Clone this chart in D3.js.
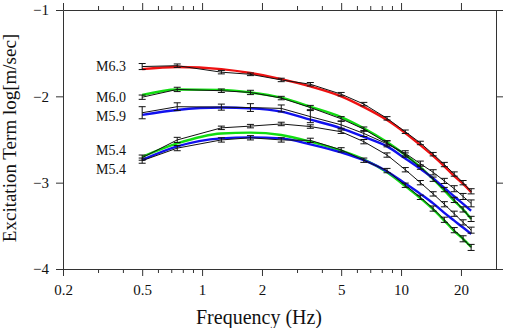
<!DOCTYPE html>
<html>
<head>
<meta charset="utf-8">
<script src="https://cdn.jsdelivr.net/npm/d3@7"></script>
<style>
  body { margin: 0; background: #fff; }
  svg { display: block; }
  svg text { font-family: "Liberation Serif", "Times New Roman", serif !important; }
</style>
</head>
<body>
<svg id="chart" width="505" height="328"></svg>
<script>
// frequencies (Hz) of the spectral points
const freqs = [0.5, 0.75, 1.25, 1.75, 2.5, 3.5, 5, 6.5, 8.5, 10.5, 12.5, 14.5, 16.5, 18.5, 20.5, 22.5];

// observed excitation terms (black lines with error bars)
const obsM63 = [-1.655, -1.645, -1.72, -1.745, -1.81, -1.86, -1.975, -2.09, -2.255, -2.41, -2.54, -2.67, -2.79, -2.9, -3.0, -3.1];
const obsM60 = [-2.01, -1.92, -1.935, -1.955, -2.02, -2.13, -2.26, -2.38, -2.54, -2.68, -2.82, -2.96, -3.08, -3.2, -3.31, -3.42];
const obsM59 = [-2.19, -2.12, -2.125, -2.13, -2.14, -2.235, -2.33, -2.43, -2.55, -2.66, -2.78, -2.88, -2.98, -3.07, -3.16, -3.24];
const obsM54a = [-2.71, -2.505, -2.365, -2.345, -2.32, -2.35, -2.41, -2.525, -2.68, -2.85, -3.0, -3.13, -3.25, -3.36, -3.46, -3.55];
const obsM54b = [-2.745, -2.6, -2.505, -2.48, -2.505, -2.51, -2.62, -2.74, -2.86, -3.03, -3.17, -3.3, -3.43, -3.55, -3.65, -3.75];

// error bar half widths
const errM63 = [0.035, 0.02, 0.02, 0.015, 0.02, 0.02, 0.02, 0.02, 0.02, 0.02, 0.02, 0.02, 0.025, 0.025, 0.025, 0.03];
const errM60 = [0.025, 0.025, 0.02, 0.025, 0.02, 0.025, 0.025, 0.025, 0.025, 0.025, 0.025, 0.025, 0.025, 0.03, 0.03, 0.03];
const errM59 = [0.07, 0.045, 0.035, 0.045, 0.04, 0.07, 0.04, 0.035, 0.035, 0.03, 0.03, 0.03, 0.03, 0.035, 0.035, 0.04];
const errM54a = [0.03, 0.03, 0.02, 0.02, 0.02, 0.02, 0.02, 0.025, 0.025, 0.025, 0.025, 0.025, 0.03, 0.03, 0.03, 0.035];
const errM54b = [0.03, 0.03, 0.025, 0.025, 0.025, 0.025, 0.025, 0.025, 0.025, 0.025, 0.025, 0.03, 0.03, 0.03, 0.035, 0.035];

// source model curves (coloured)
const modM63 = [-1.685, -1.66, -1.685, -1.73, -1.8, -1.885, -2.0, -2.125, -2.275, -2.425, -2.565, -2.69, -2.81, -2.925, -3.015, -3.11];
const modM60 = [-1.985, -1.92, -1.925, -1.955, -2.015, -2.12, -2.24, -2.37, -2.53, -2.68, -2.82, -2.96, -3.09, -3.21, -3.31, -3.42];
const modM59 = [-2.215, -2.158, -2.13, -2.139, -2.177, -2.27, -2.37, -2.47, -2.58, -2.72, -2.84, -2.95, -3.06, -3.16, -3.245, -3.325];
const modM54a = [-2.7, -2.545, -2.43, -2.42, -2.448, -2.525, -2.63, -2.73, -2.88, -3.04, -3.18, -3.31, -3.44, -3.56, -3.65, -3.745];
const modM54b = [-2.737, -2.58, -2.487, -2.475, -2.487, -2.556, -2.65, -2.74, -2.87, -3.01, -3.13, -3.24, -3.35, -3.44, -3.52, -3.595];

// event labels
const eventLabels = ["M6.3", "M6.0", "M5.9", "M5.4", "M5.4"];
const labelValues = [-1.71, -2.06, -2.29, -2.685, -2.9];

// axis ticks
const xMajorTicks = [0.2, 0.5, 1, 2, 5, 10, 20];
const xMinorTicks = [0.3, 0.4, 0.6, 0.7, 0.8, 0.9, 3, 4, 6, 7, 8, 9];
const yTicks = [-4, -3, -2, -1];

const svg = d3.select("#chart");
const plotLeft = 63, plotRight = 496, plotTop = 10, plotBottom = 269;

const x = d3.scaleLog().domain([0.2, 30]).range([plotLeft, plotRight]);
const y = d3.scaleLinear().domain([-4, -1]).range([plotBottom, plotTop]);

const axisColor = "#333";
const serif = "'Liberation Serif', 'Times New Roman', serif";

// Draw the frame axes
function styleAxis(g) {
  g.attr("font-family", serif);
  g.selectAll("path, line").attr("stroke", axisColor).attr("stroke-width", 1);
  g.selectAll("text").attr("fill", "#111").attr("font-size", "15px");
}

svg.append("g")
  .attr("transform", `translate(0, ${ plotBottom })`)
  .call(d3.axisBottom(x).tickValues(xMajorTicks).tickFormat(d => String(d)).tickSize(7).tickSizeOuter(0).tickPadding(8))
  .call(styleAxis);
svg.append("g")
  .attr("transform", `translate(0, ${ plotBottom })`)
  .call(d3.axisBottom(x).tickValues(xMinorTicks).tickFormat("").tickSize(4).tickSizeOuter(0))
  .call(styleAxis);
svg.append("g")
  .attr("transform", `translate(0, ${ plotTop })`)
  .call(d3.axisTop(x).tickValues(xMajorTicks).tickFormat("").tickSize(7).tickSizeOuter(0))
  .call(styleAxis);
svg.append("g")
  .attr("transform", `translate(0, ${ plotTop })`)
  .call(d3.axisTop(x).tickValues(xMinorTicks).tickFormat("").tickSize(4).tickSizeOuter(0))
  .call(styleAxis);
svg.append("g")
  .attr("transform", `translate(${ plotLeft }, 0)`)
  .call(d3.axisLeft(y).tickValues(yTicks).tickFormat(d => "\u2212" + Math.abs(d)).tickSize(7).tickSizeOuter(0).tickPadding(7))
  .call(styleAxis);
svg.append("g")
  .attr("transform", `translate(${ plotRight }, 0)`)
  .call(d3.axisRight(y).tickValues(yTicks).tickFormat("").tickSize(7).tickSizeOuter(0))
  .call(styleAxis);

// Model curves
const models = [
  { values: modM63, color: "#ee1111" },
  { values: modM60, color: "#11dd11" },
  { values: modM59, color: "#1111ee" },
  { values: modM54a, color: "#11dd11" },
  { values: modM54b, color: "#1111ee" }
];

const smooth = d3.line()
  .x(d => x(d[0]))
  .y(d => y(d[1]))
  .curve(d3.curveMonotoneX);

svg.append("g").selectAll("path")
  .data(models)
  .enter()
  .append("path")
  .attr("d", m => smooth(freqs.map((f, i) => [f, m.values[i]])))
  .attr("fill", "none")
  .attr("stroke", m => m.color)
  .attr("stroke-width", 2.4);

// Observed lines with error bars
const observed = [
  { values: obsM63, err: errM63 },
  { values: obsM60, err: errM60 },
  { values: obsM59, err: errM59 },
  { values: obsM54a, err: errM54a },
  { values: obsM54b, err: errM54b }
];

const straight = d3.line()
  .x(d => x(d[0]))
  .y(d => y(d[1]));

const obsGroup = svg.append("g");
observed.forEach(s => {
  const pts = freqs.map((f, i) => [f, s.values[i], s.err[i]]);
  obsGroup.append("path")
    .attr("d", straight(pts))
    .attr("fill", "none")
    .attr("stroke", "#111")
    .attr("stroke-width", 1);

  const bars = obsGroup.append("g").selectAll("g")
    .data(pts)
    .enter()
    .append("g")
    .attr("stroke", "#111")
    .attr("stroke-width", 1);
  bars.append("line")
    .attr("x1", d => x(d[0])).attr("x2", d => x(d[0]))
    .attr("y1", d => y(d[1] - d[2])).attr("y2", d => y(d[1] + d[2]));
  bars.append("line")
    .attr("x1", d => x(d[0]) - 3.5).attr("x2", d => x(d[0]) + 3.5)
    .attr("y1", d => y(d[1] - d[2])).attr("y2", d => y(d[1] - d[2]));
  bars.append("line")
    .attr("x1", d => x(d[0]) - 3.5).attr("x2", d => x(d[0]) + 3.5)
    .attr("y1", d => y(d[1] + d[2])).attr("y2", d => y(d[1] + d[2]));
});

// Event labels
svg.append("g").selectAll("text")
  .data(eventLabels)
  .enter()
  .append("text")
  .attr("x", 126)
  .attr("y", (d, i) => y(labelValues[i]))
  .attr("text-anchor", "end")
  .attr("font-family", serif)
  .attr("font-size", "14px")
  .attr("fill", "#111")
  .text(d => d);

// Axis titles
svg.append("text")
  .attr("x", 259)
  .attr("y", 324)
  .attr("text-anchor", "middle")
  .attr("font-family", serif)
  .attr("font-size", "20px")
  .attr("fill", "#111")
  .text("Frequency (Hz)");

svg.append("text")
  .attr("transform", "translate(16, 138) rotate(-90)")
  .attr("text-anchor", "middle")
  .attr("font-family", serif)
  .attr("font-size", "19px")
  .attr("fill", "#111")
  .text("Excitation Term log[m/sec]");
</script>
</body>
</html>
